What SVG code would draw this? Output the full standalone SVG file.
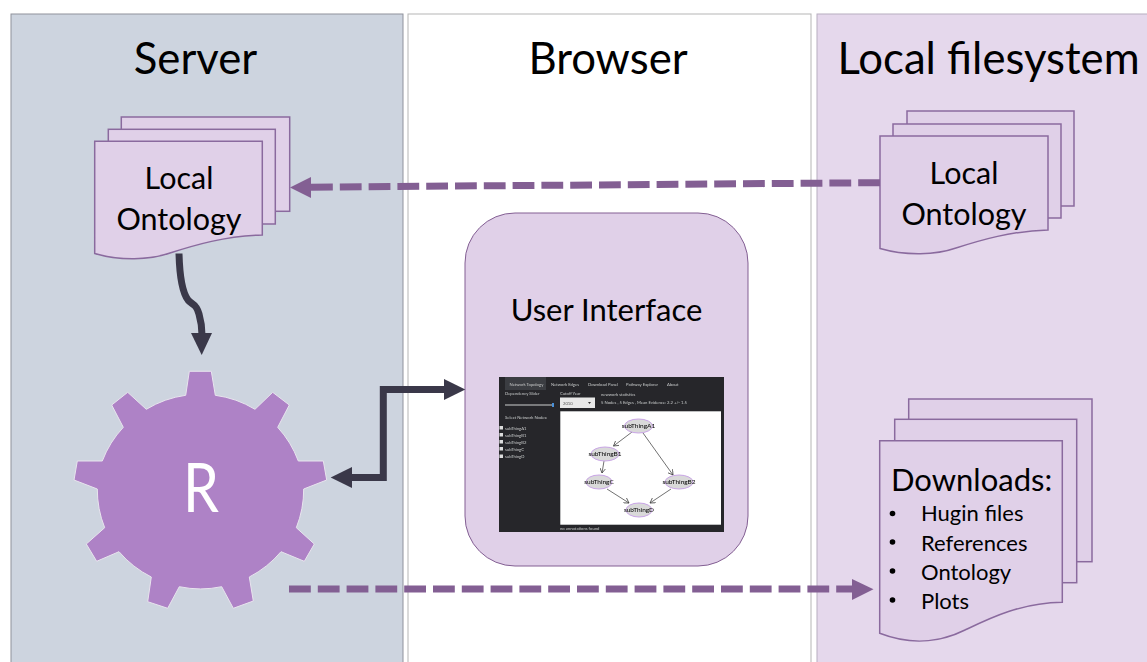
<svg xmlns="http://www.w3.org/2000/svg" width="1147" height="662" viewBox="0 0 1147 662">
<style>
text{font-family:Lato,"Open Sans",sans-serif;fill:#000}
.doc{fill:#e0d0e8;stroke:#8a6a9e;stroke-width:1.5}
.h{font-size:43.700px;text-anchor:middle}
.m{font-size:30.500px;text-anchor:middle}
.li{font-size:22px}
.dash{fill:none;stroke:#835f93;stroke-width:7;stroke-dasharray:21.800 7}
.dark{fill:none;stroke:#3a3849;stroke-width:7}
.ui{font-size:4.200px;fill:#c8c8c8}
.g{fill:#d9d9d9;stroke:#c9a5e6;stroke-width:1}
.gt{font-size:6.500px;text-anchor:middle}
.ge{stroke:#333;stroke-width:.7;fill:none;marker-end:url(#s)}
</style>
<defs>
<marker id="s" markerWidth="6" markerHeight="6" refX="5" refY="3" orient="auto" markerUnits="userSpaceOnUse"><path d="M0 0L5 3L0 6" fill="none" stroke="#333" stroke-width=".7"/></marker>
<filter id="soft" x="0" y="0" width="100%" height="100%"><feGaussianBlur stdDeviation="0.350"/></filter>
</defs>
<g id="panel-server"><rect stroke="#8f929c" x="11" y="14" width="392" height="660" fill="#cdd4df"/><text class="h" x="195.500" y="74">Server</text></g>
<g id="panel-browser"><rect stroke="#b5b5b5" x="408" y="14" width="403" height="660" fill="#fff"/><text class="h" x="608" y="74">Browser</text></g>
<g id="panel-local"><rect stroke="#b8aec0" x="817" y="14" width="340" height="660" fill="#e5d8ec"/><text class="h" x="988.500" y="74">Local filesystem</text></g>
<g id="server-ontology">
<rect class="doc" x="121.300" y="117" width="168.400" height="94.300"/>
<rect class="doc" x="108.300" y="129.300" width="167" height="94.700"/>
<path class="doc" d="M94.700 141.300H262.300V235C225 236 195 245 170 253C150 260 120 261 94.700 253.500Z"/>
<text class="m" x="179" y="188.500">Local</text><text class="m" x="179" y="229.500">Ontology</text>
</g>
<g id="local-ontology">
<rect class="doc" x="907" y="111" width="167" height="95"/>
<rect class="doc" x="893" y="124" width="168" height="94"/>
<path class="doc" d="M880 136H1048V230C1011 231 981 240 956 248C936 255 906 256 880 248.500Z"/>
<text class="m" x="964" y="183.500">Local</text><text class="m" x="964" y="224.500">Ontology</text>
</g>
<g id="downloads">
<rect class="doc" x="908.700" y="399" width="183.300" height="162.700"/>
<rect class="doc" x="894.700" y="419.300" width="182" height="163.400"/>
<path class="doc" d="M879.700 440.700H1062.300V602.300C1020 603 990 618 965 630C945 640 915 647 879.700 633.300Z"/>
<text x="891" y="491" font-size="31">Downloads:</text>
<circle cx="892.500" cy="513.500" r="2.800"/><circle cx="892.500" cy="542" r="2.800"/><circle cx="892.500" cy="571" r="2.800"/><circle cx="892.500" cy="600" r="2.800"/>
<text class="li" x="921" y="521">Hugin files</text><text class="li" x="921" y="550.500">References</text><text class="li" x="921" y="579.500">Ontology</text><text class="li" x="921" y="608.500">Plots</text>
</g>
<g id="r-gear">
<path fill="#ae82c6" stroke="#e8e4ee" stroke-width="1" d="M189.300 371.300H211.300L215.300 395.300A103 103 0 0 1 255 409.300L272.700 392.300L289.300 405L277.700 427.300A103 103 0 0 1 298.300 461H323.300L326.700 480L303.700 489A103 103 0 0 1 296.300 527.700L314.300 544L304.300 561.300L281 551.700A103 103 0 0 1 249.300 577L253.300 601L233.300 608.300L221.700 586.700A103 103 0 0 1 179.300 586.700L167.700 608.300L147.700 601.700L151.300 577A103 103 0 0 1 119 551.700L96.700 561.300L86.300 544L104.700 527.700A103 103 0 0 1 97.300 489L74 480L77.300 461H102.300A103 103 0 0 1 123.300 427.300L111.700 405L127.700 392.300L146.300 409.300A103 103 0 0 1 185.700 395.300Z"/>
<text x="183" y="511.500" font-size="68" textLength="36" lengthAdjust="spacingAndGlyphs" style="fill:#fff">R</text>
</g>
<g id="user-interface">
<rect x="465" y="213" width="283" height="353" rx="50" fill="#e0d0e8" stroke="#835f93" stroke-width="1"/>
<text x="606.500" y="320.500" font-size="31" text-anchor="middle">User Interface</text>
<g filter="url(#soft)">
<rect x="499" y="377" width="225" height="155" fill="#26282c"/>
<rect x="505" y="377" width="41" height="13" fill="#3a3d42"/>
<text class="ui" x="509.500" y="386">Network Topology</text><text class="ui" x="551" y="386">Network Edges</text><text class="ui" x="588" y="386">Download Panel</text><text class="ui" x="626" y="386">Pathway Explorer</text><text class="ui" x="667" y="386">About</text>
<text class="ui" x="505" y="395">Dependency Slider</text><text class="ui" x="560" y="395">Cutoff Year</text><text class="ui" x="601" y="396">newwork statistics</text><text class="ui" x="601" y="404">5 Nodes , 5 Edges , Mean Evidence: 2.2 +/- 1.5</text>
<rect x="505" y="404.500" width="48" height="1" fill="#ccc"/><rect x="552" y="403" width="2" height="4" fill="#4a90d9"/>
<rect x="560" y="397.500" width="35" height="10.500" fill="#e8e8e8"/><text class="ui" x="563" y="404.500" style="fill:#555">2010</text><path d="M588 402H591L589.500 404Z" fill="#333"/>
<text class="ui" x="505" y="419">Select Network Nodes:</text>
<g fill="#ddd"><rect x="499.500" y="426" width="3.500" height="3.500"/><rect x="499.500" y="433" width="3.500" height="3.500"/><rect x="499.500" y="440" width="3.500" height="3.500"/><rect x="499.500" y="447" width="3.500" height="3.500"/><rect x="499.500" y="454.500" width="3.500" height="3.500"/></g>
<text class="ui" x="505" y="429.500">subThingA1</text><text class="ui" x="505" y="436.500">subThingB1</text><text class="ui" x="505" y="444">subThingB2</text><text class="ui" x="505" y="451">subThingC</text><text class="ui" x="505" y="458">subThingD</text>
<rect x="560.300" y="411.300" width="160.700" height="113.400" fill="#fff"/>
<path class="ge" d="M632 432L613.500 446"/><path class="ge" d="M643 433L673 475"/><path class="ge" d="M604 461L602 473"/><path class="ge" d="M607 489L629 503"/><path class="ge" d="M671 489L650 503"/>
<ellipse class="g" cx="638.500" cy="426" rx="14" ry="7"/><ellipse class="g" cx="605" cy="454" rx="14" ry="7"/><ellipse class="g" cx="599" cy="482" rx="13" ry="7"/><ellipse class="g" cx="679" cy="482" rx="14" ry="7"/><ellipse class="g" cx="639" cy="510" rx="13" ry="7"/>
<text class="gt" x="638.500" y="428">subThingA1</text><text class="gt" x="605" y="456">subThingB1</text><text class="gt" x="599" y="484">subThingC</text><text class="gt" x="679" y="484">subThingB2</text><text class="gt" x="639" y="512">subThingD</text>
<text class="ui" x="560" y="530">no annotations found</text>
</g>
</g>
<g id="connectors">
<path class="dash" d="M880 182.700L306 187.200"/><path d="M290 187.500L311 177V198Z" fill="#835f93"/>
<path class="dash" d="M289 589H853"/><path d="M873.500 589.300L852 579V600Z" fill="#835f93"/>
<path class="dark" d="M179 253.500C179.500 272 182 292 188 300C192 305 196 303 199 314C201 321 202 328 202 335"/><path d="M201.700 355L191 333H212Z" fill="#3a3849"/>
<path class="dark" d="M350 477.500H383.300V389.500H446"/><path d="M330.700 477.500L352 467V488Z" fill="#3a3849"/><path d="M465.300 389.500L444 379V400Z" fill="#3a3849"/>
</g>
</svg>
